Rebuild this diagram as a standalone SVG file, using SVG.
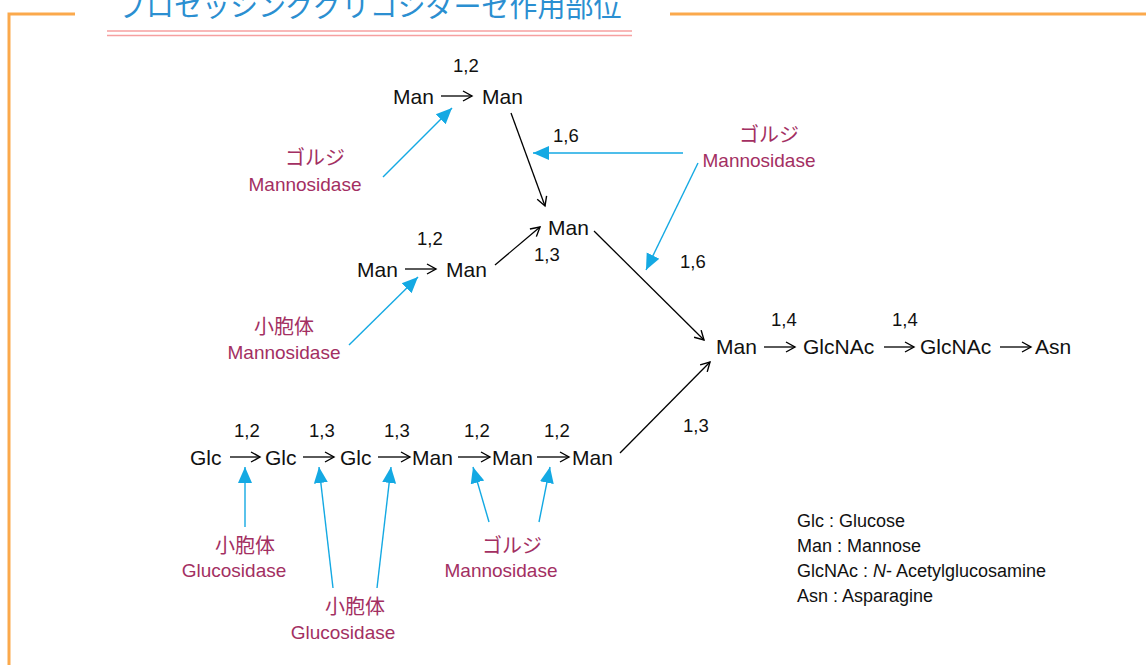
<svg xmlns="http://www.w3.org/2000/svg" width="1146" height="665" viewBox="0 0 1146 665">
<defs>
<marker id="open" markerWidth="12" markerHeight="12" refX="10" refY="6" orient="auto" markerUnits="userSpaceOnUse">
<polyline points="1,1 10,6 1,11" fill="none" stroke="#000" stroke-width="1.4"/>
</marker>
<marker id="tri" markerWidth="18" markerHeight="16" refX="16" refY="8" orient="auto" markerUnits="userSpaceOnUse">
<polygon points="0,1 16,8 0,15" fill="#14a9e3"/>
</marker>
<style>
.t{font-family:"Liberation Sans",Arial,sans-serif;fill:#111;font-size:21px}
.n{font-family:"Liberation Sans",Arial,sans-serif;fill:#111;font-size:18.5px}
.m{font-family:"Liberation Sans",Arial,sans-serif;fill:#a32f62;font-size:19px}
.j{font-family:"Noto Sans CJK JP",sans-serif;fill:#a32f62;font-size:20px}
.lg{font-family:"Liberation Sans",Arial,sans-serif;fill:#111;font-size:18px}
.k{stroke:#000;stroke-width:1.3;fill:none;marker-end:url(#open)}
.b{stroke:#14a9e3;stroke-width:1.4;fill:none;marker-end:url(#tri)}
</style>
</defs>
<g id="frame">
<polyline points="75,14 9,14 9,665" fill="none" stroke="#fba94c" stroke-width="3"/>
<line x1="670" y1="14" x2="1146" y2="14" stroke="#fba94c" stroke-width="3"/>
<line x1="107" y1="31" x2="632" y2="31" stroke="#f6a0a0" stroke-width="1.5"/>
<line x1="107" y1="35.5" x2="632" y2="35.5" stroke="#f6a0a0" stroke-width="1.5"/>
<text x="118" y="17" font-family="'Noto Sans CJK JP',sans-serif" font-size="28" fill="#2b8fd1">プロセッシンググリコシダーゼ作用部位</text>
</g>
<g id="connectors">
<line class="k" x1="441" y1="96" x2="472" y2="96"/>
<line class="k" x1="511" y1="113" x2="545" y2="206"/>
<line class="k" x1="405" y1="269" x2="436" y2="269"/>
<line class="k" x1="495" y1="265" x2="540" y2="227"/>
<line class="k" x1="594" y1="231" x2="704" y2="340"/>
<line class="k" x1="620" y1="453" x2="710" y2="362"/>
<line class="k" x1="764" y1="347" x2="795" y2="347"/>
<line class="k" x1="884" y1="347" x2="914" y2="347"/>
<line class="k" x1="1000" y1="347" x2="1031" y2="347"/>
<line class="k" x1="230" y1="457" x2="260" y2="457"/>
<line class="k" x1="303" y1="457" x2="334" y2="457"/>
<line class="k" x1="378" y1="457" x2="410" y2="457"/>
<line class="k" x1="458" y1="457" x2="490" y2="457"/>
<line class="k" x1="537" y1="457" x2="569" y2="457"/>
<line class="b" x1="383" y1="177" x2="452" y2="108"/>
<line class="b" x1="683" y1="153" x2="533" y2="153"/>
<line class="b" x1="698" y1="163" x2="646" y2="270"/>
<line class="b" x1="349" y1="345" x2="418" y2="277"/>
<line class="b" x1="245" y1="527" x2="245" y2="467"/>
<line class="b" x1="333" y1="588" x2="319" y2="467"/>
<line class="b" x1="377" y1="588" x2="391" y2="467"/>
<line class="b" x1="489" y1="522" x2="473" y2="467"/>
<line class="b" x1="539" y1="522" x2="550" y2="467"/>
</g>
<g id="top-chain">
<text class="n" x="453" y="72">1,2</text>
<text class="t" x="393" y="104">Man</text>
<text class="t" x="482" y="104">Man</text>
<text class="n" x="553" y="142">1,6</text>
</g>
<g id="mid-chain">
<text class="t" x="548" y="235">Man</text>
<text class="n" x="680" y="268">1,6</text>
<text class="n" x="417" y="245">1,2</text>
<text class="t" x="357" y="277">Man</text>
<text class="t" x="446" y="277">Man</text>
<text class="n" x="534" y="261">1,3</text>
</g>
<g id="core-chain">
<text class="n" x="771" y="326">1,4</text>
<text class="n" x="892" y="326">1,4</text>
<text class="t" x="716" y="354">Man</text>
<text class="t" x="803" y="354">GlcNAc</text>
<text class="t" x="920" y="354">GlcNAc</text>
<text class="t" x="1035" y="354">Asn</text>
<text class="n" x="683" y="432">1,3</text>
</g>
<g id="bottom-chain">
<text class="n" x="234" y="437">1,2</text>
<text class="n" x="309" y="437">1,3</text>
<text class="n" x="384" y="437">1,3</text>
<text class="n" x="464" y="437">1,2</text>
<text class="n" x="544" y="437">1,2</text>
<text class="t" x="190" y="465">Glc</text>
<text class="t" x="265" y="465">Glc</text>
<text class="t" x="340" y="465">Glc</text>
<text class="t" x="412" y="465">Man</text>
<text class="t" x="492" y="465">Man</text>
<text class="t" x="572" y="465">Man</text>
</g>
<g id="enzyme-golgi-top">
<text class="j" x="315" y="165" text-anchor="middle">ゴルジ</text>
<text class="m" x="305" y="191" text-anchor="middle">Mannosidase</text>
</g>
<g id="enzyme-golgi-right">
<text class="j" x="769" y="142" text-anchor="middle">ゴルジ</text>
<text class="m" x="759" y="167" text-anchor="middle">Mannosidase</text>
</g>
<g id="enzyme-vesicle-mid">
<text class="j" x="284" y="334" text-anchor="middle">小胞体</text>
<text class="m" x="284" y="359" text-anchor="middle">Mannosidase</text>
</g>
<g id="enzyme-vesicle-glc1">
<text class="j" x="245" y="553" text-anchor="middle">小胞体</text>
<text class="m" x="234" y="577" text-anchor="middle">Glucosidase</text>
</g>
<g id="enzyme-vesicle-glc2">
<text class="j" x="355" y="614" text-anchor="middle">小胞体</text>
<text class="m" x="343" y="639" text-anchor="middle">Glucosidase</text>
</g>
<g id="enzyme-golgi-bottom">
<text class="j" x="512" y="553" text-anchor="middle">ゴルジ</text>
<text class="m" x="501" y="577" text-anchor="middle">Mannosidase</text>
</g>
<g id="legend">
<text class="lg" x="797" y="527">Glc : Glucose</text>
<text class="lg" x="797" y="552">Man : Mannose</text>
<text class="lg" x="797" y="577">GlcNAc : <tspan font-style="italic">N</tspan>- Acetylglucosamine</text>
<text class="lg" x="797" y="602">Asn : Asparagine</text>
</g>
</svg>
